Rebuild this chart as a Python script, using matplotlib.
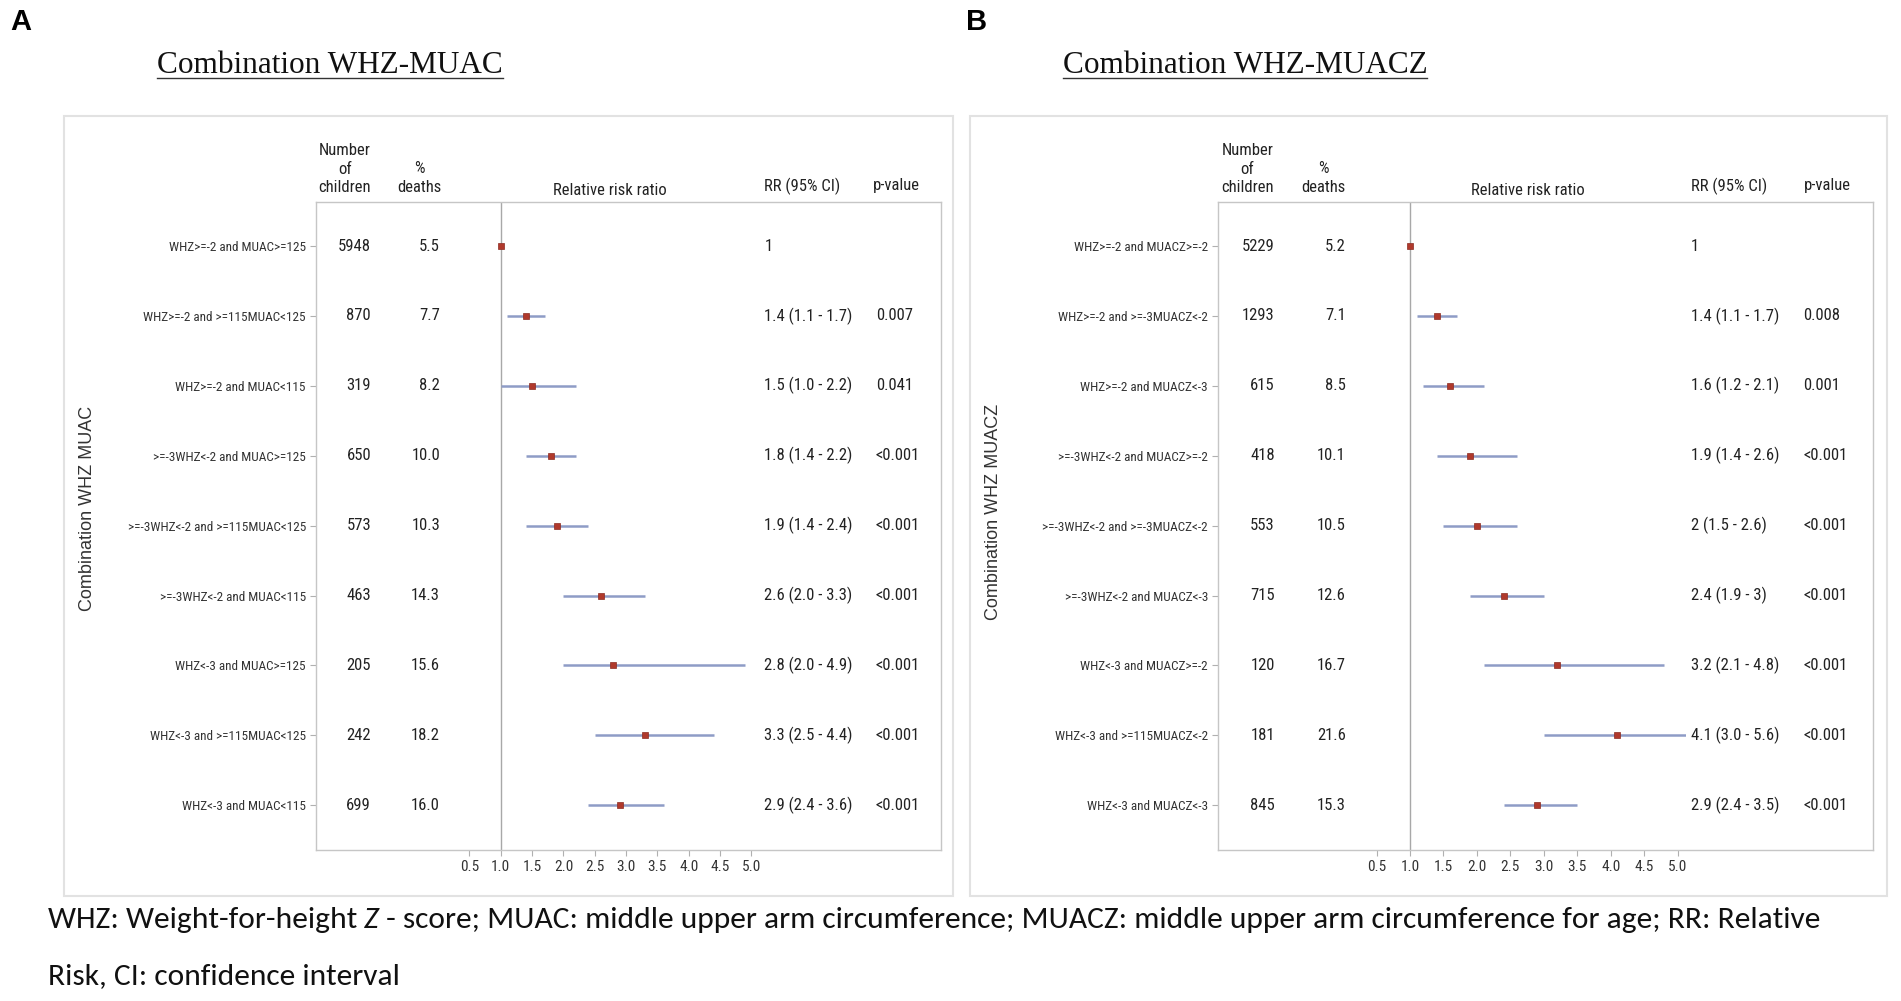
import matplotlib
matplotlib.use('Agg')
import matplotlib.pyplot as plt
from matplotlib.lines import Line2D
from matplotlib.patches import Rectangle
from matplotlib.transforms import Bbox, TransformedBbox, blended_transform_factory
import numpy as np

W, H = 1901, 1001

NARROW = ['Roboto Condensed', 'Liberation Sans']
SANS = ['Liberation Sans', 'DejaVu Sans']
SERIF = ['Liberation Serif', 'DejaVu Serif']
CAPTION = ['Carlito', 'Lato', 'DejaVu Sans']

# ---- panel A : WHZ x MUAC ----
labels_a = ['WHZ>=-2 and MUAC>=125', 'WHZ>=-2 and >=115MUAC<125', 'WHZ>=-2 and MUAC<115',
            '>=-3WHZ<-2 and MUAC>=125', '>=-3WHZ<-2 and >=115MUAC<125', '>=-3WHZ<-2 and MUAC<115',
            'WHZ<-3 and MUAC>=125', 'WHZ<-3 and >=115MUAC<125', 'WHZ<-3 and MUAC<115']
n_a = [5948, 870, 319, 650, 573, 463, 205, 242, 699]
deaths_a = [5.5, 7.7, 8.2, 10.0, 10.3, 14.3, 15.6, 18.2, 16.0]
rr_a = [1.0, 1.4, 1.5, 1.8, 1.9, 2.6, 2.8, 3.3, 2.9]
lo_a = [np.nan, 1.1, 1.0, 1.4, 1.4, 2.0, 2.0, 2.5, 2.4]
hi_a = [np.nan, 1.7, 2.2, 2.2, 2.4, 3.3, 4.9, 4.4, 3.6]
rr_text_a = ['1', '1.4 (1.1 - 1.7)', '1.5 (1.0 - 2.2)', '1.8 (1.4 - 2.2)', '1.9 (1.4 - 2.4)',
             '2.6 (2.0 - 3.3)', '2.8 (2.0 - 4.9)', '3.3 (2.5 - 4.4)', '2.9 (2.4 - 3.6)']
p_a = ['', '0.007', '0.041', '<0.001', '<0.001', '<0.001', '<0.001', '<0.001', '<0.001']

# ---- panel B : WHZ x MUACZ ----
labels_b = ['WHZ>=-2 and MUACZ>=-2', 'WHZ>=-2 and >=-3MUACZ<-2', 'WHZ>=-2 and MUACZ<-3',
            '>=-3WHZ<-2 and MUACZ>=-2', '>=-3WHZ<-2 and >=-3MUACZ<-2', '>=-3WHZ<-2 and MUACZ<-3',
            'WHZ<-3 and MUACZ>=-2', 'WHZ<-3 and >=115MUACZ<-2', 'WHZ<-3 and MUACZ<-3']
n_b = [5229, 1293, 615, 418, 553, 715, 120, 181, 845]
deaths_b = [5.2, 7.1, 8.5, 10.1, 10.5, 12.6, 16.7, 21.6, 15.3]
rr_b = [1.0, 1.4, 1.6, 1.9, 2.0, 2.4, 3.2, 4.1, 2.9]
lo_b = [np.nan, 1.1, 1.2, 1.4, 1.5, 1.9, 2.1, 3.0, 2.4]
hi_b = [np.nan, 1.7, 2.1, 2.6, 2.6, 3.0, 4.8, 5.6, 3.5]
rr_text_b = ['1', '1.4 (1.1 - 1.7)', '1.6 (1.2 - 2.1)', '1.9 (1.4 - 2.6)', '2 (1.5 - 2.6)',
             '2.4 (1.9 - 3)', '3.2 (2.1 - 4.8)', '4.1 (3.0 - 5.6)', '2.9 (2.4 - 3.5)']
p_b = ['', '0.008', '0.001', '<0.001', '<0.001', '<0.001', '<0.001', '<0.001', '<0.001']

xticks = [0.5, 1.0, 1.5, 2.0, 2.5, 3.0, 3.5, 4.0, 4.5, 5.0]

LINE_C = '#8e9cc6'
MARK_C = '#b0392c'
BOX_C = '#c6c6c6'
TXT_C = '#222222'

fig = plt.figure(figsize=(W / 100, H / 100), dpi=100)


def fbox(x0, y0, x1, y1):
    # pixel box (top-left origin) -> figure fraction rect
    return [x0 / W, 1 - y1 / H, (x1 - x0) / W, (y1 - y0) / H]


def draw_panel(rect, xlim, cols, labels, n, deaths, rr, lo, hi, rr_text, pv, ylab, ylab_xy):
    ax = fig.add_axes(fbox(*rect))
    rows = np.arange(len(labels))
    ax.set_xlim(*xlim)
    ax.set_ylim(8.64, -0.63)
    for s in ax.spines.values():
        s.set_color(BOX_C)
        s.set_linewidth(1.0)
    ax.axvline(1.0, color='#a8a8a8', lw=1.0, zorder=1)

    # CI lines stop where the RR column starts
    clip = TransformedBbox(Bbox([[xlim[0], 0], [cols['clip'], 1]]),
                           blended_transform_factory(ax.transData, ax.transAxes))
    for i in rows:
        if not np.isnan(lo[i]):
            ln, = ax.plot([lo[i], hi[i]], [i, i], color=LINE_C, lw=1.8, zorder=2, solid_capstyle='butt')
            ln.set_clip_box(clip)
    ax.plot(rr, rows, 's', ms=5, color=MARK_C, mec='#8a2a20', mew=0.5, zorder=3)

    ax.set_yticks(rows)
    ax.set_yticklabels(labels, fontsize=9.5, family=NARROW, color='#333333')
    ax.tick_params(axis='y', length=4, color='#b0b0b0', pad=3)
    ax.set_xticks(xticks)
    ax.set_xticklabels([f'{t:.1f}' for t in xticks], fontsize=11, family=NARROW, color='#333333')
    ax.tick_params(axis='x', length=4, color='#b0b0b0', pad=3)

    kw = dict(fontsize=12, family=NARROW, color=TXT_C, va='center', clip_on=False)
    for i in rows:
        ax.text(cols['n'], i, f'{n[i]}', ha='right', **kw)
        ax.text(cols['d'], i, f'{deaths[i]:.1f}', ha='right', **kw)
        ax.text(cols['rr'], i, rr_text[i], ha='left', **kw)
        ax.text(cols['p'], i, pv[i], ha='left', **kw)

    ax.text(cols['hn'], -1.10, 'Number\nof\nchildren', ha='center', multialignment='center',
            linespacing=1.3, **kw)
    ax.text(cols['hd'], -0.975, '%\ndeaths', ha='center', multialignment='center',
            linespacing=1.3, **kw)
    ax.text(cols['hrr'], -0.80, 'Relative risk ratio', ha='center', **kw)
    ax.text(cols['rr'], -0.86, 'RR (95% CI)', ha='left', **kw)
    ax.text(cols['hp'], -0.86, 'p-value', ha='left', **kw)

    fig.text(ylab_xy[0] / W, 1 - ylab_xy[1] / H, ylab, rotation=90, ha='center', va='center',
             fontsize=13, family=SANS, color='#333333')
    return ax


draw_panel((315.7, 202, 941, 850), (-1.955, 8.03),
           dict(n=-1.07, d=0.03, rr=5.21, p=6.99, hn=-1.49, hd=-0.30, hrr=2.74, hp=6.95, clip=5.12),
           labels_a, n_a, deaths_a, rr_a, lo_a, hi_a, rr_text_a, p_a,
           'Combination WHZ MUAC', (87, 508))
draw_panel((1217.7, 202, 1873, 850), (-1.874, 7.92),
           dict(n=-1.02, d=0.04, rr=5.20, p=6.88, hn=-1.43, hd=-0.29, hrr=2.76, hp=6.88, clip=5.12),
           labels_b, n_b, deaths_b, rr_b, lo_b, hi_b, rr_text_b, p_b,
           'Combination WHZ MUACZ', (994, 512))

# outer frames
for x0, x1 in [(64, 953), (970, 1887)]:
    fig.add_artist(Rectangle((x0 / W, 1 - 896 / H), (x1 - x0) / W, (896 - 116) / H,
                             transform=fig.transFigure, fill=False, ec='#e2e2e2', lw=1.5))

# panel letters
fig.text(10 / W, 1 - 22 / H, 'A', fontsize=21, weight='bold', family=SANS, va='center', ha='left')
fig.text(966 / W, 1 - 22 / H, 'B', fontsize=21, weight='bold', family=SANS, va='center', ha='left')

# underlined titles
renderer = fig.canvas.get_renderer()
for cx, title in [(330, 'Combination WHZ-MUAC'), (1245, 'Combination WHZ-MUACZ')]:
    t = fig.text(cx / W, 1 - 73 / H, title, fontsize=22.5, family=SERIF, ha='center',
                 va='baseline', color='#111111')
    bb = t.get_window_extent(renderer)
    fig.add_artist(Line2D([bb.x0 / W, bb.x1 / W], [1 - 78 / H, 1 - 78 / H],
                          transform=fig.transFigure, color='#333333', lw=1.0))

# caption, sized to span the same width as the original
part1 = 'WHZ: Weight-for-height '
part2 = 'Z'
part3 = (' - score; MUAC: middle upper arm circumference; MUACZ: middle upper arm '
         'circumference for age; RR: Relative')
probe = fig.text(0, 0, part1 + part2 + part3, fontsize=20, family=CAPTION)
cap_size = 20 * 1771 / probe.get_window_extent(renderer).width
probe.remove()

x = 48
for txt, style in [(part1, 'normal'), (part2, 'italic'), (part3, 'normal')]:
    t = fig.text(x / W, 1 - 928 / H, txt, fontsize=cap_size, family=CAPTION, style=style,
                 va='baseline', ha='left', color='#111111')
    x += t.get_window_extent(renderer).width
fig.text(48 / W, 1 - 984 / H, 'Risk, CI: confidence interval', fontsize=cap_size,
         family=CAPTION, va='baseline', ha='left', color='#111111')

fig.savefig('out.png', dpi=100)
